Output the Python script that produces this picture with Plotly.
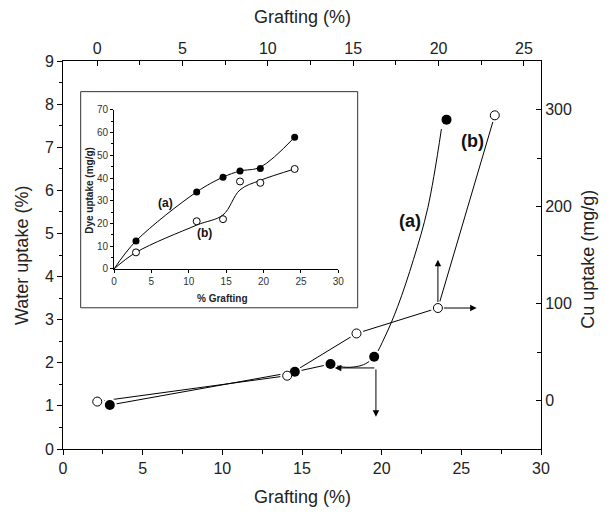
import plotly.graph_objects as go

# ---------------- main data (bottom x / left y scale) ----------------
fill_x = [2.94, 14.55, 16.79, 19.53, 24.07]
fill_y = [1.02, 1.79, 1.97, 2.14, 7.64]
open_x = [2.15, 14.07, 18.42, 23.53, 27.10]
open_y = [1.10, 1.70, 2.68, 3.27, 7.74]

# fitted curve (a)
curve_a_x = [16.79, 17.6, 18.4, 19.0, 19.53, 20.2, 21.0, 22.0, 22.9, 23.75]
curve_a_y = [1.97, 1.90, 1.91, 1.98, 2.14, 2.60, 3.30, 4.40, 5.60, 7.42]

# ---------------- inset data ----------------
ins_x = [2.94, 11.06, 14.58, 16.85, 19.57, 24.16]
ins_a = [12.3, 33.9, 40.4, 43.1, 44.2, 58.0]
ins_b = [7.3, 21.0, 21.9, 38.5, 37.9, 44.0]
ins_curve_x = [0, 2.94, 11.06, 14.58, 16.85, 19.57, 24.16]
ins_curve_a = [0, 12.3, 33.9, 40.4, 43.1, 44.8, 58.0]
ins_curve_b = [0, 7.3, 19.3, 23.8, 34.8, 39.0, 44.0]

FONT = "Liberation Sans, Arial, sans-serif"
BLK = "black"

fig = go.Figure()

# lines
fig.add_trace(go.Scatter(x=fill_x[:3], y=fill_y[:3], mode="lines",
                         line=dict(color=BLK, width=1), hoverinfo="skip"))
fig.add_trace(go.Scatter(x=curve_a_x, y=curve_a_y, mode="lines",
                         line=dict(color=BLK, width=1, shape="spline", smoothing=1),
                         hoverinfo="skip"))
fig.add_trace(go.Scatter(x=open_x, y=open_y, mode="lines",
                         line=dict(color=BLK, width=1), hoverinfo="skip"))
# white halos (gaps around symbols)
fig.add_trace(go.Scatter(x=fill_x + open_x, y=fill_y + open_y, mode="markers",
                         marker=dict(size=14, color="white"), hoverinfo="skip"))
# symbols
fig.add_trace(go.Scatter(x=fill_x, y=fill_y, mode="markers",
                         marker=dict(size=10, color=BLK, line=dict(width=0))))
fig.add_trace(go.Scatter(x=open_x, y=open_y, mode="markers",
                         marker=dict(size=9, color="white", line=dict(color=BLK, width=1))))

# dummy for secondary axes
fig.add_trace(go.Scatter(x=[0], y=[0], xaxis="x2", yaxis="y2", mode="markers",
                         marker=dict(opacity=0), hoverinfo="skip"))

# inset traces
fig.add_trace(go.Scatter(x=ins_curve_x, y=ins_curve_a, xaxis="x3", yaxis="y3", mode="lines",
                         line=dict(color=BLK, width=1, shape="spline", smoothing=1), hoverinfo="skip"))
fig.add_trace(go.Scatter(x=ins_curve_x, y=ins_curve_b, xaxis="x3", yaxis="y3", mode="lines",
                         line=dict(color=BLK, width=1, shape="spline", smoothing=1), hoverinfo="skip"))
fig.add_trace(go.Scatter(x=ins_x, y=ins_a, xaxis="x3", yaxis="y3", mode="markers",
                         marker=dict(size=7, color=BLK)))
fig.add_trace(go.Scatter(x=ins_x, y=ins_b, xaxis="x3", yaxis="y3", mode="markers",
                         marker=dict(size=7, color="white", line=dict(color=BLK, width=1))))

tickfont = dict(family=FONT, size=16, color="#222")
ax_common = dict(showline=True, linecolor=BLK, linewidth=1, showgrid=False, zeroline=False,
                 tickcolor=BLK, tickfont=tickfont)

# page body has an 8px default margin: figure sized so the page does not overflow
fig.update_layout(
    width=595, height=500,
    margin=dict(l=55, r=62, t=53, b=59),
    paper_bgcolor="white", plot_bgcolor="rgba(0,0,0,0)",
    showlegend=False,
    font=dict(family=FONT, color="#222"),
    xaxis=dict(range=[0, 30], dtick=5, ticks="outside", ticklen=5,
               minor=dict(dtick=2.5, ticks="outside", ticklen=4, tickcolor=BLK), **ax_common),
    yaxis=dict(range=[0, 9], dtick=1, ticks="outside", ticklen=5,
               minor=dict(dtick=0.5, ticks="outside", ticklen=3, tickcolor=BLK), **ax_common),
    xaxis2=dict(range=[-2, 26], dtick=5, ticks="inside", ticklen=5, side="top",
                overlaying="x", anchor="y",
                minor=dict(dtick=2.5, ticks="inside", ticklen=4, tickcolor=BLK), **ax_common),
    yaxis2=dict(range=[-50, 350], dtick=100, ticks="inside", ticklen=5, side="right",
                overlaying="y", anchor="x",
                minor=dict(dtick=50, ticks="inside", ticklen=4, tickcolor=BLK), **ax_common),
    xaxis3=dict(domain=[0.1067, 0.576], anchor="y3", range=[0, 30], dtick=5,
                ticks="outside", ticklen=3, showline=True, linecolor=BLK, linewidth=1,
                showgrid=False, zeroline=False, tickcolor=BLK,
                tickfont=dict(family=FONT, size=10, color="#333")),
    yaxis3=dict(domain=[0.464, 0.874], anchor="x3", range=[0, 70], dtick=10,
                ticks="outside", ticklen=3, showline=True, linecolor=BLK, linewidth=1,
                showgrid=False, zeroline=False, tickcolor=BLK,
                minor=dict(dtick=5, ticks="outside", ticklen=2, tickcolor=BLK),
                tickfont=dict(family=FONT, size=10, color="#333")),
)

# inset frame
fig.add_shape(type="rect", xref="paper", yref="paper", x0=0.037, x1=0.6165, y0=0.364, y1=0.921,
              line=dict(color="#333", width=1), fillcolor="rgba(0,0,0,0)", layer="above")

C = dict(xanchor="center", yanchor="middle", showarrow=False)
ann = []
title_font = dict(family=FONT, size=18, color="#222")
ann.append(dict(text="Grafting (%)", xref="paper", yref="paper", x=0.5, y=-0.124,
                font=title_font, **C))
ann.append(dict(text="Grafting (%)", xref="paper", yref="paper", x=0.5, y=1.113,
                font=title_font, **C))
ann.append(dict(text="Water uptake (%)", xref="paper", yref="paper", x=-0.0858, y=0.5,
                textangle=-90, font=title_font, **C))
ann.append(dict(text="Cu uptake (mg/g)", xref="paper", yref="paper", x=1.098, y=0.49,
                textangle=-90, font=title_font, **C))
lab_font = dict(family=FONT, size=18, color="#111")
ann.append(dict(text="<b>(a)</b>", x=21.78, y=5.28, xref="x", yref="y", font=lab_font, **C))
ann.append(dict(text="<b>(b)</b>", x=25.67, y=7.14, xref="x", yref="y", font=lab_font, **C))
# inset labels
in_font = dict(family=FONT, size=12, color="#111")
ann.append(dict(text="<b>(a)</b>", x=6.95, y=29.2, xref="x3", yref="y3", font=in_font, **C))
ann.append(dict(text="<b>(b)</b>", x=12.08, y=15.7, xref="x3", yref="y3", font=in_font, **C))
ann.append(dict(text="<b>% Grafting</b>", xref="paper", yref="paper", x=0.3347, y=0.389,
                font=dict(family=FONT, size=10, color="#222"), **C))
ann.append(dict(text="<b>Dye uptake (mg/g)</b>", xref="paper", yref="paper", x=0.054, y=0.6675,
                textangle=-90, font=dict(family=FONT, size=10, color="#222"), **C))

# arrows
arrow_common = dict(xref="x", yref="y", axref="x", ayref="y", text="", showarrow=True,
                    arrowhead=2, arrowsize=1.3, arrowwidth=1, arrowcolor=BLK)
ann.append(dict(x=17.06, y=1.88, ax=19.64, ay=1.88, **arrow_common))
ann.append(dict(x=19.64, y=0.75, ax=19.64, ay=1.88, **arrow_common))
ann.append(dict(x=25.96, y=3.27, ax=23.53, ay=3.27, startstandoff=4.5, **arrow_common))
ann.append(dict(x=23.53, y=4.39, ax=23.53, ay=3.27, startstandoff=4.5, **arrow_common))

fig.update_layout(annotations=ann)

fig.write_html("out.html")
